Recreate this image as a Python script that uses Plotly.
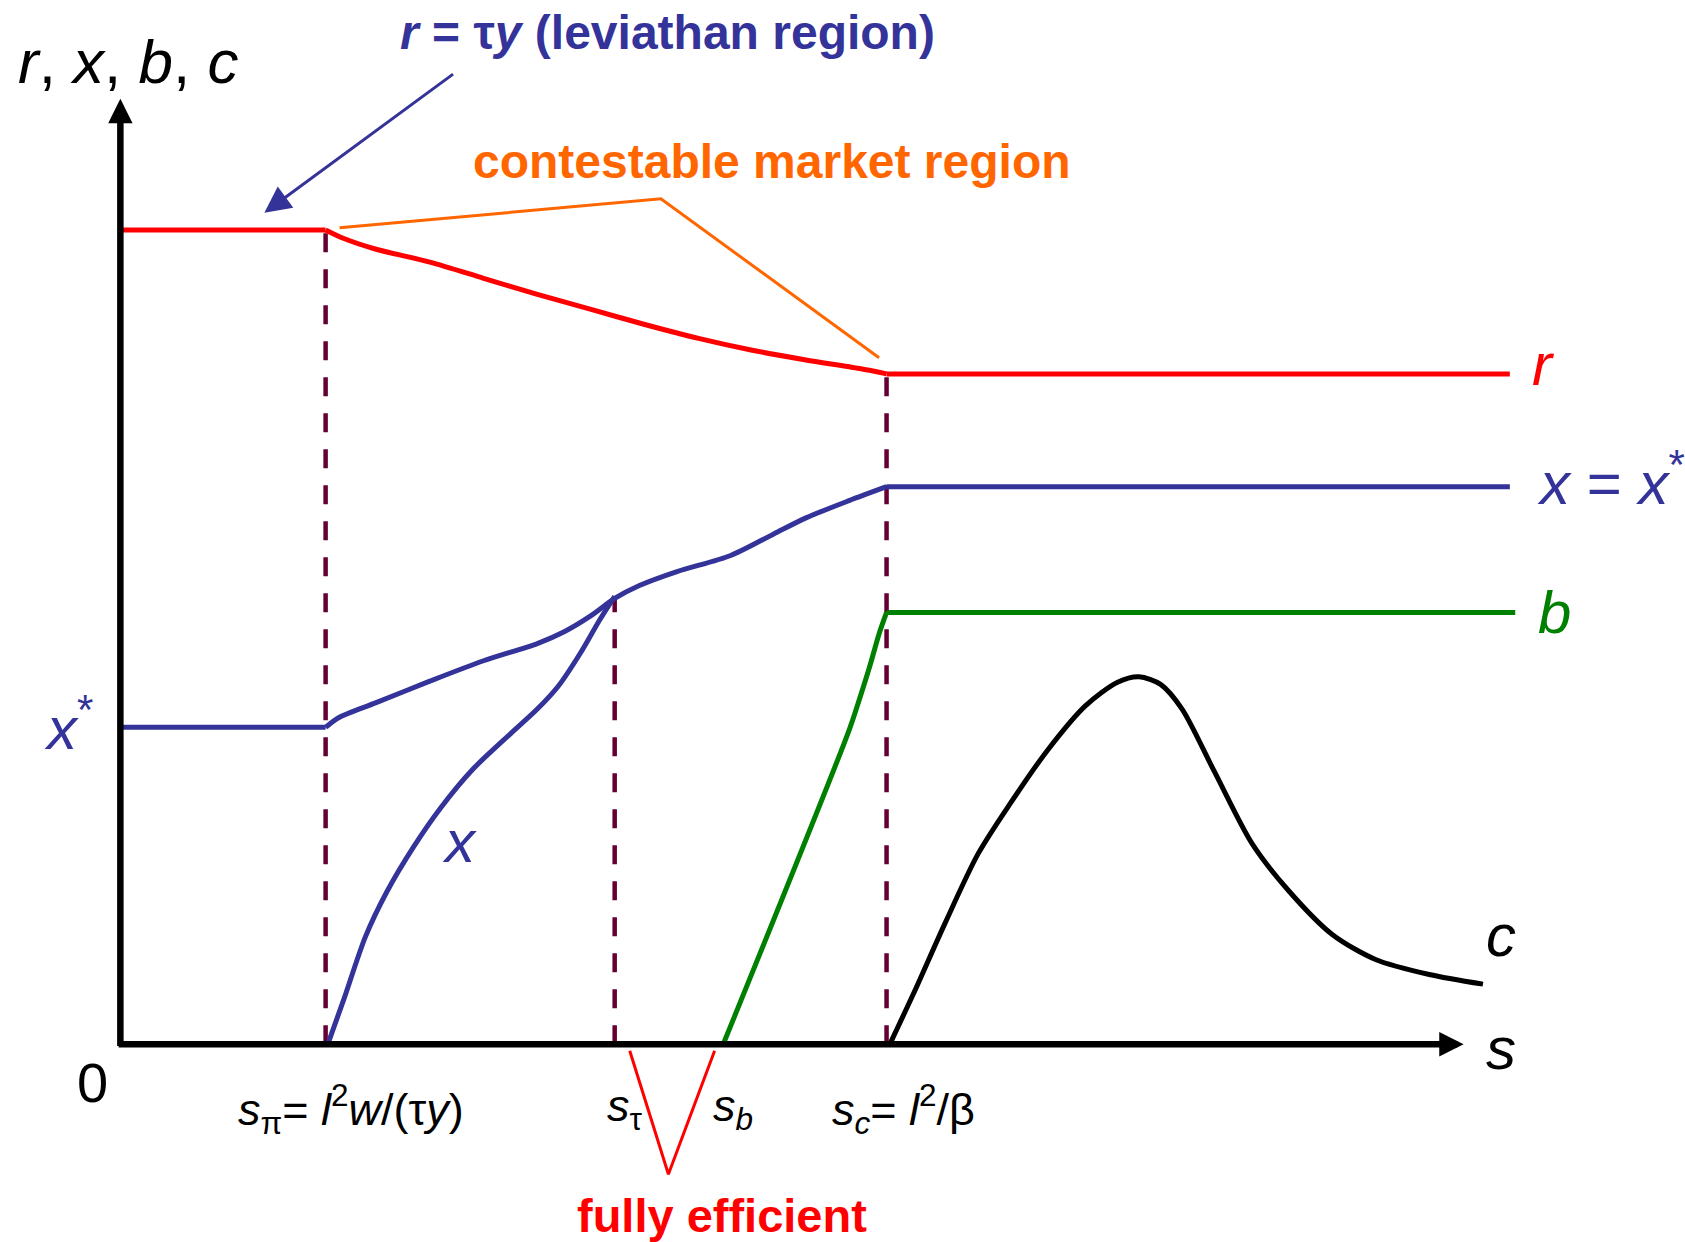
import plotly.graph_objects as go

# ---- thresholds on the s axis and plateau levels ----
s_pi, s_tau, s_b, s_c = 1.91, 4.60, 5.61, 7.13
s_end = 12.93
r_lev, r_cm = 7.58, 6.24
x_star, x_full = 2.95, 5.19
b_full = 4.02

# ---- curve samples ----
r_curve_s = [1.91, 2.08, 2.38, 2.88, 3.38, 3.88, 4.38, 4.88, 5.38, 5.88, 6.38, 6.88, 7.13]
r_curve_v = [7.58, 7.50, 7.40, 7.28, 7.13, 6.98, 6.84, 6.70, 6.57, 6.46, 6.37, 6.29, 6.24]

xu_curve_s = [1.91, 2.03, 2.38, 2.88, 3.38, 3.88, 4.13, 4.38, 4.60, 4.83, 5.18, 5.68, 6.08, 6.38, 6.78, 7.13]
xu_curve_v = [2.95, 3.04, 3.18, 3.38, 3.57, 3.73, 3.84, 3.99, 4.15, 4.27, 4.40, 4.55, 4.75, 4.90, 5.06, 5.19]

xl_curve_s = [1.93, 2.08, 2.28, 2.48, 2.73, 2.98, 3.28, 3.63, 3.88, 4.08, 4.28, 4.46, 4.60]
xl_curve_v = [0.00, 0.42, 1.00, 1.42, 1.84, 2.20, 2.56, 2.89, 3.12, 3.34, 3.64, 3.95, 4.17]

b_curve_s = [5.61, 6.78, 6.88, 6.98, 7.06, 7.13]
b_curve_v = [0.00, 2.92, 3.22, 3.54, 3.82, 4.02]

c_curve_s = [7.16, 7.38, 7.68, 7.98, 8.28, 8.63, 8.98, 9.28, 9.48, 9.68, 9.88, 10.18, 10.53, 10.88, 11.28, 11.68, 12.18, 12.68]
c_curve_v = [0.00, 0.47, 1.14, 1.77, 2.24, 2.74, 3.15, 3.37, 3.42, 3.35, 3.12, 2.54, 1.87, 1.42, 1.02, 0.79, 0.65, 0.56]

# ---- leader lines ----
orange_s = [2.04, 5.03, 7.06]
orange_v = [7.60, 7.87, 6.39]
red_v_s = [4.74, 5.10, 5.53]
red_v_v = [-0.06, -1.21, -0.06]

RED, BLUE, GREEN, ORANGE, MAROON = "#FF0000", "#333399", "#008000", "#FF6600", "#660033"
FONT = "Liberation Sans, Arial, sans-serif"
LW = 5

fig = go.Figure()

def line(xs, ys, color, width=LW, dash=None, shape="linear"):
    fig.add_trace(go.Scatter(x=xs, y=ys, mode="lines", hoverinfo="skip",
                             line=dict(color=color, width=width, dash=dash, shape=shape, smoothing=0.8)))

# dashed threshold lines
for s0, top in [(s_pi, r_lev), (s_tau, xl_curve_v[-1]), (s_c, r_cm)]:
    line([s0, s0], [0, top], MAROON, width=4.5, dash="19px,17px")

# r
line([0, s_pi], [r_lev, r_lev], RED)
line(r_curve_s, r_curve_v, RED, shape="spline")
line([s_c, s_end], [r_cm, r_cm], RED)
# x upper
line([0, s_pi], [x_star, x_star], BLUE)
line(xu_curve_s, xu_curve_v, BLUE, shape="spline")
line([s_c, s_end], [x_full, x_full], BLUE)
# x lower
line(xl_curve_s, xl_curve_v, BLUE, shape="spline")
# b
line(b_curve_s, b_curve_v, GREEN, shape="spline")
line([s_c, s_end + 0.05], [b_full, b_full], GREEN)
# c
line(c_curve_s, c_curve_v, "black", shape="spline")
# leader lines
line(orange_s, orange_v, ORANGE, width=3)
line(red_v_s, red_v_v, RED, width=3)

# axes with arrowheads
fig.add_annotation(x=0, y=8.80, ax=0, ay=-0.03, axref="x", ayref="y", xref="x", yref="y",
                   text="", showarrow=True, arrowhead=2, arrowwidth=6.5, arrowsize=0.75, arrowcolor="black")
fig.add_annotation(x=12.50, y=0, ax=-0.03, ay=0, axref="x", ayref="y", xref="x", yref="y",
                   text="", showarrow=True, arrowhead=2, arrowwidth=6.5, arrowsize=0.75, arrowcolor="black")
# leviathan arrow
fig.add_annotation(x=1.34, y=7.74, ax=3.11, ay=9.04, axref="x", ayref="y", xref="x", yref="y",
                   text="", showarrow=True, arrowhead=2, arrowwidth=3, arrowsize=1.75, arrowcolor=BLUE)

def txt(x, y, text, color="black", size=60, xanchor="center"):
    fig.add_annotation(x=x, y=y, text=text, showarrow=False, xanchor=xanchor, yanchor="middle",
                       font=dict(family=FONT, size=size, color=color))

MATH = 60
txt(-0.97, 9.15, "<i>r</i>, <i>x</i>, <i>b</i>, <i>c</i>", size=62, xanchor="left")
txt(2.58, 9.42, "<b><i>r</i> = τ<i>y</i> (leviathan region)</b>", BLUE, size=48, xanchor="left")
txt(6.06, 8.22, "<b>contestable market region</b>", ORANGE, size=48)
txt(5.60, -1.59, "<b>fully efficient</b>", RED, size=47)

txt(13.24, 6.33, "<i>r</i>", RED, size=MATH)
txt(13.16, 5.26, "<i>x</i> = <i>x</i><sup>*</sup>", BLUE, size=MATH, xanchor="left")
txt(13.35, 4.02, "<i>b</i>", GREEN, size=MATH)
txt(12.85, 1.01, "<i>c</i>", "black", size=MATH)
txt(12.85, -0.04, "<i>s</i>", "black", size=MATH)
txt(-0.48, 2.98, "<i>x</i><sup>*</sup>", BLUE, size=MATH)
txt(3.16, 1.89, "<i>x</i>", BLUE, size=MATH)
txt(-0.26, -0.36, "0", "black", size=56)

LAB = 45
txt(1.08, -0.60, "<i>s</i><sub>π</sub>= <i>l</i><sup>2</sup><i>w</i>/(τ<i>y</i>)", size=LAB, xanchor="left")
txt(4.51, -0.60, "<i>s</i><sub>τ</sub>", size=LAB, xanchor="left")
txt(5.50, -0.60, "<i>s</i><sub><i>b</i></sub>", size=LAB, xanchor="left")
txt(6.60, -0.60, "<i>s</i><sub><i>c</i></sub>= <i>l</i><sup>2</sup>/β", size=LAB, xanchor="left")

fig.update_layout(
    width=1685, height=1242, margin=dict(l=0, r=0, t=0, b=0),
    paper_bgcolor="white", plot_bgcolor="white", showlegend=False,
    xaxis=dict(range=[-1.12, 14.56], visible=False, fixedrange=True),
    yaxis=dict(range=[-1.84, 9.72], visible=False, fixedrange=True),
)

fig.write_html("out.html", config={"displayModeBar": False},
               post_script="document.body.style.margin='0';document.body.style.overflow='hidden';")
